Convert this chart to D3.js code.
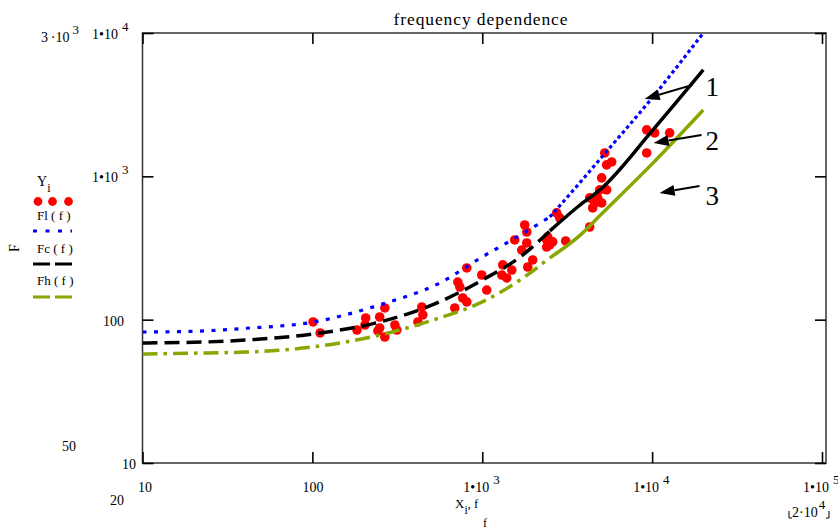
<!DOCTYPE html>
<html><head><meta charset="utf-8">
<style>
body{margin:0;background:#fff}
text{font-family:"Liberation Serif","Times New Roman",serif;fill:#000}
</style>
</head><body>
<script src="https://d3js.org/d3.v7.min.js"></script>
<script>
// curve samples (f, F)
var freq = [10,20,40,100,250,560,1000,1700,2500,3700,5000,10000,20000];
var Fl = [82,83,87,96,127,180,274,393,521,885,1343,3524,10000];
var Fc = [68.8,69.5,72,79.4,96.4,133,189,278,416,621,817,2075,5521];
var Fh = [57.6,58.4,59.4,64.5,78.2,102.8,133,192,270,381,542,1222,2905];

// measured points X_i, Y_i
var X = [101,111,183,206,204,249,267,249,306,314,243,267,441,447,418,689,811,718,738,768,
         811,993,1063,1303,1393,1320,1708,1828,1982,1853,1778,1828,1553,1493,2394,2495,2394,2600,2427,2742,
         2857,4289,4467,5260,5780,5398,5046,5398,4914,4780,4590,5046,4289,9290,10350,12680,9290,3098];
var Y = [96.4,80.8,84.7,102.8,91.8,87.5,120.7,104.4,91.8,84.7,83.4,75.7,122.7,107.9,96.4,120.7,229.6,183,169,141.6,
         133,205,161,205,195.4,241,306,343,261,233,458,409,360,222,360,332,321,349,378,556,
         513,707,602,1456,1260,1202,975,804,804,707,652,652,443,2108,2009,2009,1456,354];

var xTicks = [10,100,1000,10000,100000];
var yTicks = [10,100,1000,10000];

// arrows [tailF, tailY, tipF, tipY] and their numbers
var arrows = [[17300,4345,9036,3467],[19540,1945,10210,1710],[19010,857,11070,766]];
var arrowLabels = ["1","2","3"];
var arrowLabelF = [20650,20650,20650];
var arrowLabelY = [3640,1528,631];

var W = 838, H = 529;
var svg = d3.select("body").append("svg").attr("width", W).attr("height", H);

var x = d3.scaleLog().domain([10,1e5]).range([142.5,822]);
var y = d3.scaleLog().domain([10,1e4]).range([463,33]);

svg.append("clipPath").attr("id","clip").append("rect")
  .attr("x",142.5).attr("y",32).attr("width",826-142.5).attr("height",431);

// frame
svg.append("rect").attr("x",142.5).attr("y",33).attr("width",826-142.5).attr("height",430)
  .attr("fill","none").attr("stroke","#333").attr("stroke-width",1.5);

// ticks on all four sides
function ticks(axis, tx, ty){
  var g = svg.append("g").attr("transform","translate("+tx+","+ty+")").call(axis);
  g.select(".domain").remove();
  g.selectAll(".tick line").attr("stroke","#000").attr("stroke-width",1.6);
}
ticks(d3.axisBottom(x).tickValues(xTicks).tickSize(-11).tickFormat(""), 0, 463);
ticks(d3.axisTop(x).tickValues(xTicks).tickSize(-11).tickFormat(""), 0, 33);
ticks(d3.axisLeft(y).tickValues(yTicks).tickSize(-11).tickFormat(""), 142.5, 0);
ticks(d3.axisRight(y).tickValues(yTicks).tickSize(-11).tickFormat(""), 826, 0);

// label "1•10^n" or plain number
function numLabel(px, py, v){
  var t = svg.append("text").attr("x",px).attr("y",py).style("font-size","14px");
  var e = Math.round(Math.log10(v));
  if (v < 1000){ t.text(String(v)); return t; }
  t.append("tspan").text("1\u202210");
  t.append("tspan").attr("dx",4).attr("dy",-8).style("font-size","13px").text(e);
  return t;
}
xTicks.forEach(function(v){
  var off = v >= 1000 ? -19 : (v == 100 ? -10 : -4.5);
  numLabel(x(v)+off, 492, v);
});
yTicks.forEach(function(v){
  var py = y(v) + 6;
  if (v >= 1000) numLabel(92, py, v);
  else numLabel(v == 100 ? 103 : 122, py, v);
});

// axis limit fields
var t3 = svg.append("text").attr("x",41).attr("y",42).style("font-size","14px");
t3.append("tspan").text("3\u2009\u00b710");
t3.append("tspan").attr("dx",3).attr("dy",-8).style("font-size","13px").text("3");
svg.append("text").attr("x",62).attr("y",451).style("font-size","14px").text("50");
svg.append("text").attr("x",110).attr("y",505).style("font-size","14px").text("20");
var t4 = svg.append("text").attr("x",792).attr("y",517).style("font-size","14px");
t4.append("tspan").text("2\u00b710");
t4.append("tspan").attr("dx",1).attr("dy",-8).style("font-size","13px").text("4");
svg.append("path").attr("d","M789,511V518H792M829,511V518H826").attr("fill","none").attr("stroke","#000").attr("stroke-width",1);

// title and axis titles
svg.append("text").attr("x",481).attr("y",25).attr("text-anchor","middle").style("font-size","17.5px")
  .style("letter-spacing","0.9px").text("frequency dependence");
svg.append("text").attr("transform","translate(19,248) rotate(-90)").attr("text-anchor","middle")
  .style("font-size","14px").text("F");
var xt = svg.append("text").attr("x",455).attr("y",508).style("font-size","13px");
xt.append("tspan").text("X");
xt.append("tspan").attr("dy",6).style("font-size","11.5px").text("i");
xt.append("tspan").attr("dy",-6).text(", f");
svg.append("text").attr("x",483).attr("y",527).style("font-size","12px").text("f");

// data
var plot = svg.append("g").attr("clip-path","url(#clip)");
plot.selectAll("circle.pt").data(X).enter().append("circle").attr("class","pt")
  .attr("cx",function(d){ return x(d); })
  .attr("cy",function(d,i){ return y(Y[i]); })
  .attr("r",4.8).attr("fill","#ff0000");

var line = d3.line().x(function(d){ return x(d[0]); }).y(function(d){ return y(d[1]); })
  .curve(d3.curveMonotoneX);

function trace(vals, split, lowDash, highDash, color, width){
  var pts = freq.map(function(f,i){ return [f, vals[i]]; });
  var low = pts.filter(function(p){ return p[0] <= split; });
  var high = pts.filter(function(p){ return p[0] >= split; });
  plot.append("path").attr("d", line(low)).attr("fill","none").attr("stroke",color)
    .attr("stroke-width",width).attr("stroke-dasharray",lowDash);
  plot.append("path").attr("d", line(high)).attr("fill","none").attr("stroke",color)
    .attr("stroke-width",width).attr("stroke-dasharray",highDash);
}
trace(Fl, 2500, "4,7.5", "3.5,3", "#0000ff", 3.2);
trace(Fc, 2500, "15,7", null, "#000", 3.5);
trace(Fh, 2500, "15,6,3.5,6", null, "#86a800", 3.5);

// arrows and numbers
arrows.forEach(function(a,i){
  var x0 = x(a[0]), y0 = y(a[1]), x1 = x(a[2]), y1 = y(a[3]);
  var ang = Math.atan2(y1-y0, x1-x0), L = 15, Wd = 5.5;
  var bx = x1 - L*Math.cos(ang), by = y1 - L*Math.sin(ang);
  svg.append("line").attr("x1",x0).attr("y1",y0).attr("x2",bx).attr("y2",by)
    .attr("stroke","#000").attr("stroke-width",2);
  svg.append("path").attr("fill","#000").attr("d",
    "M"+x1+","+y1+"L"+(bx+Wd*Math.sin(ang))+","+(by-Wd*Math.cos(ang))+
    "L"+(bx-Wd*Math.sin(ang))+","+(by+Wd*Math.cos(ang))+"Z");
  svg.append("text").attr("x",x(arrowLabelF[i])).attr("y",y(arrowLabelY[i]))
    .style("font-size","27px").text(arrowLabels[i]);
});

// legend
var lg = svg.append("g");
var yl = lg.append("text").attr("x",37).attr("y",186).style("font-size","14px");
yl.append("tspan").text("Y");
yl.append("tspan").attr("dy",6).style("font-size","12px").text("i");
lg.selectAll("circle").data([38,52.5,68.5]).enter().append("circle")
  .attr("cx",function(d){ return d; }).attr("cy",201.5).attr("r",4.4).attr("fill","#ff0000");
var names = ["Fl ( f )","Fc ( f )","Fh ( f )"];
var nameY = [220,253,285];
var swY = [231,264,297];
var swCol = ["#0000ff","#000","#86a800"];
var swDash = ["4,8.5","17,5","17,5"];
names.forEach(function(n,i){
  lg.append("text").attr("x",37).attr("y",nameY[i]).style("font-size","13px").text(n);
  lg.append("line").attr("x1",33).attr("x2",72).attr("y1",swY[i]).attr("y2",swY[i])
    .attr("stroke",swCol[i]).attr("stroke-width",3.2).attr("stroke-dasharray",swDash[i]);
});
</script>
</body></html>
